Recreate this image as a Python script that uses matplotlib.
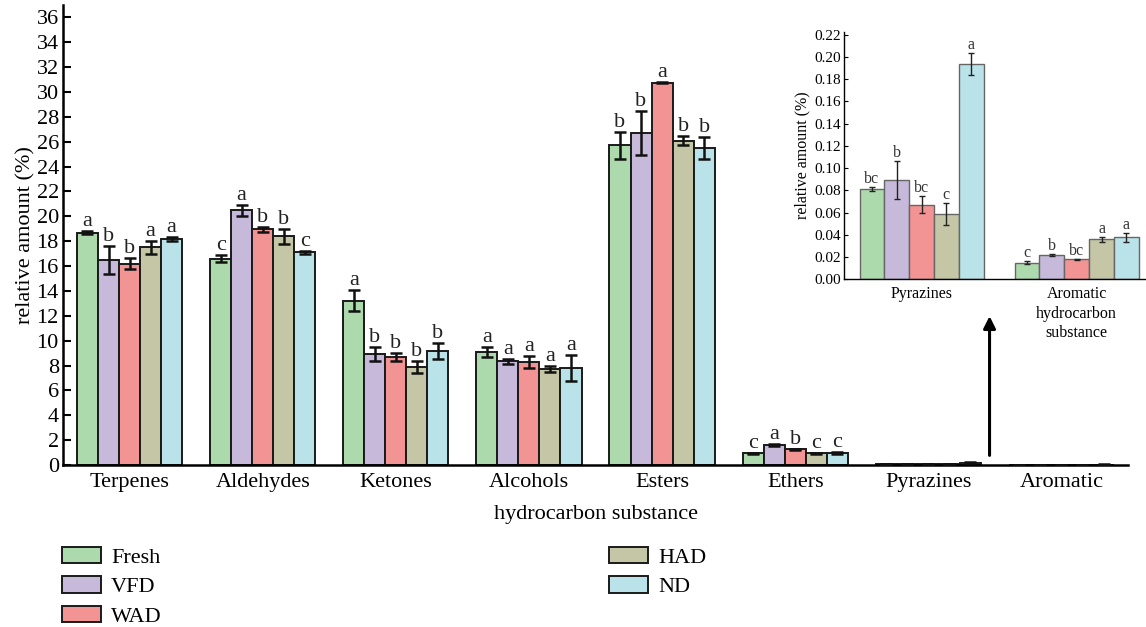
import matplotlib
matplotlib.use("Agg")
import matplotlib.pyplot as plt
import numpy as np

plt.rcParams['font.family'] = ['Liberation Serif', 'DejaVu Serif']

# Compound classes and drying treatments
categories = ['Terpenes', 'Aldehydes', 'Ketones', 'Alcohols', 'Esters',
              'Ethers', 'Pyrazines', 'Aromatic']
treatments = ['Fresh', 'VFD', 'WAD', 'HAD', 'ND']
colors = ['#acdaac', '#c6b9da', '#f39494', '#c4c6a6', '#b9e3e9']

# Mean relative amounts (%) per treatment, in category order
fresh = [18.7, 16.6, 13.2, 9.1, 25.7, 0.95, 0.081, 0.015]
vfd = [16.5, 20.5, 8.95, 8.35, 26.7, 1.6, 0.089, 0.022]
wad = [16.2, 18.95, 8.7, 8.3, 30.75, 1.27, 0.067, 0.018]
had = [17.5, 18.4, 7.9, 7.75, 26.1, 0.95, 0.059, 0.036]
nd = [18.2, 17.1, 9.2, 7.8, 25.5, 0.97, 0.194, 0.038]

# Standard deviations
fresh_sd = [0.15, 0.3, 0.85, 0.4, 1.1, 0.05, 0.002, 0.0015]
vfd_sd = [1.1, 0.45, 0.55, 0.2, 1.8, 0.05, 0.017, 0.0012]
wad_sd = [0.45, 0.2, 0.3, 0.5, 0.05, 0.03, 0.0075, 0.0005]
had_sd = [0.5, 0.6, 0.5, 0.25, 0.4, 0.05, 0.01, 0.0025]
nd_sd = [0.15, 0.15, 0.65, 1.05, 0.85, 0.05, 0.01, 0.004]

# Significance letters (main chart: first six classes)
fresh_sig = ['a', 'c', 'a', 'a', 'b', 'c']
vfd_sig = ['b', 'a', 'b', 'a', 'b', 'a']
wad_sig = ['b', 'b', 'b', 'a', 'a', 'b']
had_sig = ['a', 'b', 'b', 'a', 'b', 'c']
nd_sig = ['a', 'c', 'b', 'a', 'b', 'c']

# Inset: Pyrazines and aromatic hydrocarbons
inset_categories = ['Pyrazines', 'Aromatic\nhydrocarbon\nsubstance']
fresh_sig_in = ['bc', 'c']
vfd_sig_in = ['b', 'b']
wad_sig_in = ['bc', 'bc']
had_sig_in = ['c', 'a']
nd_sig_in = ['a', 'a']

means = [fresh, vfd, wad, had, nd]
sds = [fresh_sd, vfd_sd, wad_sd, had_sd, nd_sd]
sigs = [fresh_sig, vfd_sig, wad_sig, had_sig, nd_sig]
sigs_in = [fresh_sig_in, vfd_sig_in, wad_sig_in, had_sig_in, nd_sig_in]

W, H = 1146, 627
fig = plt.figure(figsize=(W / 100, H / 100), dpi=100)

# ---------- main chart ----------
ax = fig.add_axes([63 / W, 1 - 465 / H, (1128 - 63) / W, (465 - 5) / H])
x = np.arange(len(categories))
bw = 0.158
handles = []
for i, (m, s, sg, c) in enumerate(zip(means, sds, sigs, colors)):
    xi = x + (i - 2) * bw
    b = ax.bar(xi, m, bw, color=c, edgecolor='#1a1a1a', linewidth=1.4,
               label=treatments[i], zorder=2)
    handles.append(b)
    ax.errorbar(xi, m, yerr=s, fmt='none', ecolor='#111111', elinewidth=1.8,
                capsize=4.5, capthick=1.8, zorder=3)
    for j, letter in enumerate(sg):
        ax.annotate(letter, (xi[j], m[j] + s[j]), xytext=(0, 0),
                    textcoords='offset points', ha='center', va='bottom',
                    fontsize=16, color='#222222')

ax.set_xlim(-0.5, 7.5)
ax.set_ylim(0, 37)
ax.set_yticks(np.arange(0, 37, 2))
ax.set_xticks(x)
ax.set_xticklabels(categories, fontsize=16)
ax.tick_params(axis='y', direction='in', length=6, width=1.5, labelsize=16,
               pad=3)
ax.tick_params(axis='x', length=0, pad=6)
for sp in ['top', 'right']:
    ax.spines[sp].set_visible(False)
for sp in ['left', 'bottom']:
    ax.spines[sp].set_linewidth(1.8)
ax.set_ylabel('relative amount (%)', fontsize=16, labelpad=1)
ax.set_xlabel('hydrocarbon substance', fontsize=16, labelpad=9)

# arrow pointing up to the inset
ax.annotate('', xy=(6.46, 12.2), xytext=(6.46, 0.55),
            arrowprops=dict(arrowstyle='-|>', color='black', lw=2.2,
                            mutation_scale=18))

# ---------- inset ----------
ins = fig.add_axes([844 / W, 1 - 279.3 / H, (1145 - 844) / W, (279.3 - 32) / H])
xin = np.arange(2)
bw_in = 0.16
for i, (m, s, sg, c) in enumerate(zip(means, sds, sigs_in, colors)):
    xi = xin + (i - 2) * bw_in
    ins.bar(xi, m[6:8], bw_in, color=c, edgecolor='#666666', linewidth=1.0,
            zorder=2)
    ins.errorbar(xi, m[6:8], yerr=s[6:8], fmt='none', ecolor='#222222',
                 elinewidth=1.0, capsize=2.5, capthick=1.0, zorder=3)
    for j, letter in enumerate(sg):
        ins.annotate(letter, (xi[j], m[6 + j] + s[6 + j]), xytext=(0, 0),
                     textcoords='offset points', ha='center', va='bottom',
                     fontsize=11.5, color='#333333')

ins.set_xlim(-0.5, 1.44)
ins.set_ylim(0, 0.2225)
ins.set_yticks(np.arange(0, 0.221, 0.02))
ins.set_yticklabels([f'{v:.2f}' for v in np.arange(0, 0.221, 0.02)])
ins.set_xticks(xin)
ins.set_xticklabels(inset_categories, fontsize=11.5, linespacing=1.3)
ins.tick_params(axis='y', direction='in', length=3, width=0.8, labelsize=11,
                pad=2)
ins.tick_params(axis='x', length=0, pad=5)
for sp in ['top', 'right']:
    ins.spines[sp].set_visible(False)
for sp in ['left', 'bottom']:
    ins.spines[sp].set_linewidth(1.0)
ins.set_ylabel('relative amount (%)', fontsize=11.5, labelpad=3)

# ---------- legend (two columns) ----------
leg_kw = dict(frameon=False, fontsize=16, loc='upper left', borderpad=0,
              borderaxespad=0, handlelength=1.75, handleheight=0.75,
              handletextpad=0.45, labelspacing=0.38)
leg1 = fig.legend(handles[:3], treatments[:3],
                  bbox_to_anchor=(62 / W, 1 - 547 / H), **leg_kw)
leg2 = fig.legend(handles[3:], treatments[3:],
                  bbox_to_anchor=(609 / W, 1 - 547 / H), **leg_kw)

fig.savefig('out.png', dpi=100)
